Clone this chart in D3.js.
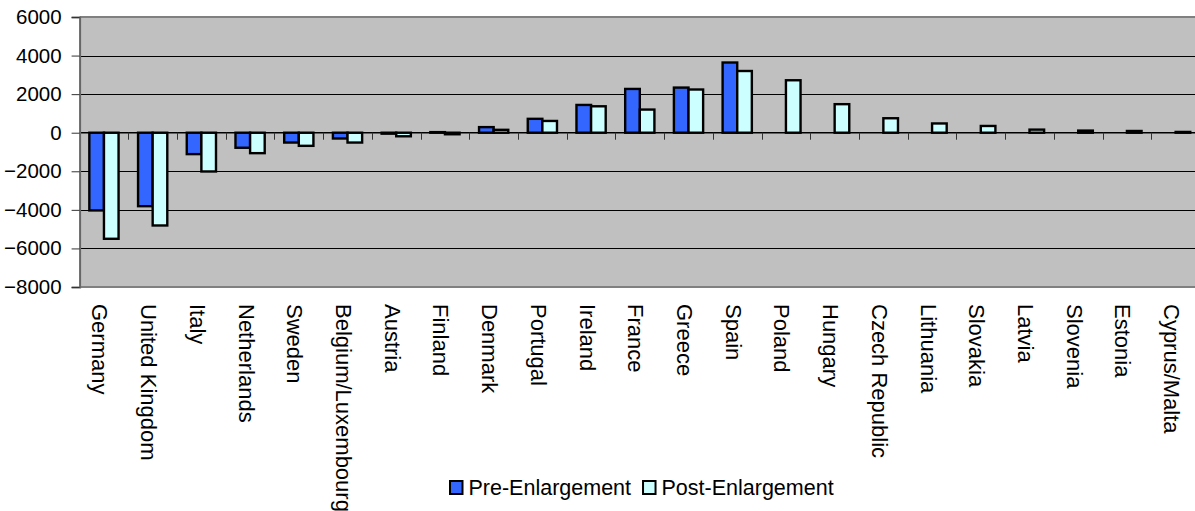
<!DOCTYPE html>
<html><head><meta charset="utf-8">
<script src="https://cdn.jsdelivr.net/npm/d3@7"></script>
<style>html,body{margin:0;padding:0;background:#fff;overflow:hidden}svg{display:block}</style>
</head><body>
<script>
const categories = ["Germany","United Kingdom","Italy","Netherlands","Sweden","Belgium/Luxembourg","Austria","Finland","Denmark","Portugal","Ireland","France","Greece","Spain","Poland","Hungary","Czech Republic","Lithuania","Slovakia","Latvia","Slovenia","Estonia","Cyprus/Malta"];
const preEnlargement = [-4030,-3810,-1110,-780,-510,-300,-50,30,290,720,1440,2270,2340,3640,0,0,0,0,0,0,0,0,0];
const postEnlargement = [-5500,-4810,-2010,-1060,-680,-510,-185,-80,150,610,1370,1200,2240,3200,2720,1480,750,480,350,160,110,90,40];
const seriesNames = ["Pre-Enlargement","Post-Enlargement"];
const yTicks = [6000,4000,2000,0,-2000,-4000,-6000,-8000];

const W = 1195, H = 511;
const colors = ["#3366FF","#CCFFFF"];
const font = "Liberation Sans, Arial, sans-serif";
const svg = d3.select("body").append("svg").attr("width",W).attr("height",H);
svg.append("rect").attr("width",W).attr("height",H).attr("fill","#fff");

const L = 79.6, R = 1200, T = 17, B = 287;
const x = d3.scaleBand().domain(categories).range([L,R]).paddingInner(0).paddingOuter(0);
const y = d3.scaleLinear().domain([-8000,6000]).range([B,T]);

// plot background
svg.append("rect").attr("x",L).attr("y",T).attr("width",R-L).attr("height",B-T).attr("fill","#C0C0C0");

// gridlines
svg.append("g").selectAll("line").data(yTicks.filter(v=>v!==6000 && v!==-8000 && v!==0)).join("line")
  .attr("x1",L).attr("x2",R).attr("y1",d=>Math.round(y(d))+0.5).attr("y2",d=>Math.round(y(d))+0.5)
  .attr("stroke","#000").attr("stroke-width",1);

// plot border (top/bottom)
svg.append("line").attr("x1",L).attr("x2",R).attr("y1",T).attr("y2",T).attr("stroke","#808080").attr("stroke-width",2);
svg.append("line").attr("x1",L).attr("x2",R).attr("y1",B).attr("y2",B).attr("stroke","#808080").attr("stroke-width",2);

// bars
const bw = x.bandwidth()*0.3;
const series = [preEnlargement, postEnlargement];
series.forEach((vals, si) => {
  svg.append("g").selectAll("rect")
    .data(categories.map((c,i)=>({c, v: vals[i]})).filter(d=>d.v!==0))
    .join("rect")
    .attr("x", d => x(d.c) + x.bandwidth()/2 - bw + si*bw)
    .attr("y", d => y(Math.max(0,d.v)))
    .attr("width", bw)
    .attr("height", d => Math.abs(y(d.v)-y(0)))
    .attr("fill", colors[si])
    .attr("stroke","#000").attr("stroke-width",2.4);
});

// zero (category) axis line
const y0 = y(0);
svg.append("line").attr("x1",L).attr("x2",R).attr("y1",y0).attr("y2",y0).attr("stroke","#000").attr("stroke-width",1.5);
// category tick marks at boundaries
svg.append("g").selectAll("line").data(categories.slice(1)).join("line")
  .attr("x1",d=>Math.round(x(d))+0.5).attr("x2",d=>Math.round(x(d))+0.5)
  .attr("y1",y0).attr("y2",y0+7).attr("stroke","#333").attr("stroke-width",1);

// y axis
const yAxis = d3.axisLeft(y).tickValues(yTicks).tickSize(8).tickPadding(10).tickFormat(d3.format("d"));
const ya = svg.append("g").attr("transform",`translate(${L},0)`).call(yAxis);
ya.select(".domain").attr("stroke","#666").attr("stroke-width",2);
ya.selectAll(".tick line").attr("stroke","#333");
ya.selectAll(".tick text").attr("font-family",font).attr("font-size","20.5px").attr("fill","#000");

// category labels (rotated)
svg.append("g").selectAll("text").data(categories).join("text")
  .attr("transform", d => `translate(${x(d)+x.bandwidth()/2-11.5},304) rotate(90)`)
  .attr("text-anchor","start")
  .attr("font-family",font).attr("font-size","22px").attr("fill","#000")
  .text(d=>d);

// legend
const lg = svg.append("g");
let lx = 450;
seriesNames.forEach((name,i)=>{
  lg.append("rect").attr("x",lx).attr("y",481).attr("width",12.5).attr("height",13)
    .attr("fill",colors[i]).attr("stroke","#000").attr("stroke-width",2);
  const t = lg.append("text").attr("x",lx+18.5).attr("y",495)
    .attr("font-family",font).attr("font-size","21.5px").attr("fill","#000").text(name);
  lx = lx + 18.5 + t.node().getComputedTextLength() + 12;
});
</script>
</body></html>
